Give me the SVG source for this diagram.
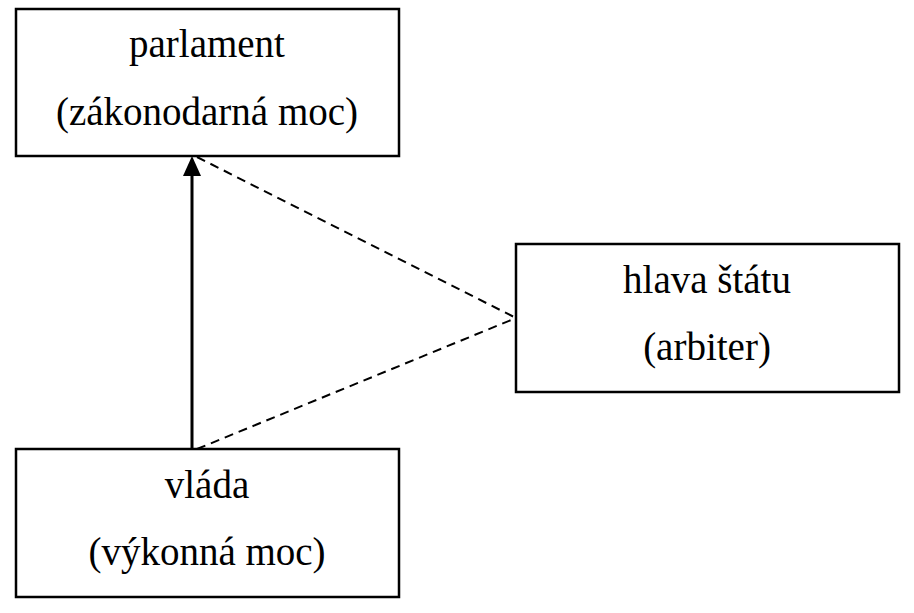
<svg xmlns="http://www.w3.org/2000/svg" width="914" height="613" viewBox="0 0 914 613">
<style>
.box{fill:#fff;stroke:#000;stroke-width:2.5}
.t{font-family:"Liberation Serif","Times New Roman",serif;font-size:39px;fill:#000;text-anchor:middle}
.dash{fill:none;stroke:#000;stroke-width:2;stroke-dasharray:9 6}
.solid{fill:none;stroke:#000;stroke-width:3}
</style>
<defs>
<marker id="ah" markerWidth="10" markerHeight="10" refX="10" refY="5" orient="auto" markerUnits="userSpaceOnUse" viewBox="0 0 10 10">
<path d="M0,0 L10,5 L0,10 Z" fill="#000"/>
</marker>
</defs>
<rect width="914" height="613" fill="#fff"/>
<g id="connectors">
<line class="solid" x1="192" y1="449" x2="192" y2="176"/>
<path d="M192,156 L201,176 L183,176 Z" fill="#000"/>
<line class="dash" x1="197" y1="157" x2="516" y2="318"/>
<line class="dash" x1="197" y1="449" x2="516" y2="318"/>
</g>
<g id="parlament">
<rect class="box" x="16" y="9" width="383" height="147"/>
<text class="t" x="207" y="57">parlament</text>
<text class="t" x="207" y="125">(zákonodarná moc)</text>
</g>
<g id="hlava">
<rect class="box" x="516" y="244" width="383" height="148"/>
<text class="t" x="707" y="293">hlava štátu</text>
<text class="t" x="707" y="360">(arbiter)</text>
</g>
<g id="vlada">
<rect class="box" x="16" y="449" width="383" height="148"/>
<text class="t" x="207" y="498">vláda</text>
<text class="t" x="207" y="565">(výkonná moc)</text>
</g>
</svg>
